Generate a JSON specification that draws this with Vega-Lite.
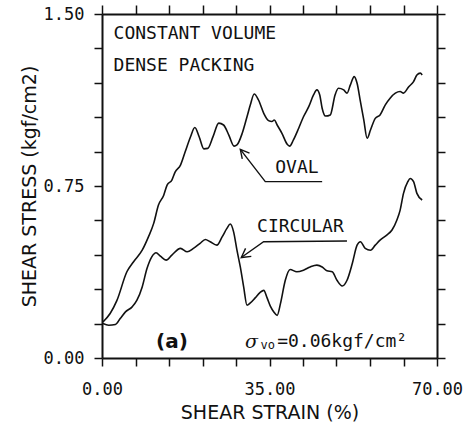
{
  "$schema": "https://vega.github.io/schema/vega-lite/v6.json",
  "autosize": "none",
  "padding": {"left": 102, "top": 14, "right": 32, "bottom": 67},
  "width": 335,
  "height": 344,
  "background": "white",
  "config": {
    "view": {"stroke": null},
    "axis": {"grid": false, "domainColor": "#111", "domainWidth": 2, "tickColor": "#111", "tickWidth": 1.5, "labelColor": "#111", "titleColor": "#111", "labelFont": "DejaVu Sans Mono", "titleFont": "DejaVu Sans", "titleFontWeight": "normal", "labelFontSize": 17, "titleFontSize": 19}
  },
  "datasets": {
    "curves": [
      {"series": "oval", "strain": 0.2, "stress": 0.157},
      {"series": "oval", "strain": 1.7, "stress": 0.194},
      {"series": "oval", "strain": 3.1, "stress": 0.25},
      {"series": "oval", "strain": 5.2, "stress": 0.376},
      {"series": "oval", "strain": 6.6, "stress": 0.42},
      {"series": "oval", "strain": 8.4, "stress": 0.47},
      {"series": "oval", "strain": 9.7, "stress": 0.528},
      {"series": "oval", "strain": 10.8, "stress": 0.587},
      {"series": "oval", "strain": 11.8, "stress": 0.667},
      {"series": "oval", "strain": 12.9, "stress": 0.71},
      {"series": "oval", "strain": 13.6, "stress": 0.754},
      {"series": "oval", "strain": 14.6, "stress": 0.776},
      {"series": "oval", "strain": 15.3, "stress": 0.812},
      {"series": "oval", "strain": 16.4, "stress": 0.841},
      {"series": "oval", "strain": 17.4, "stress": 0.9},
      {"series": "oval", "strain": 18.5, "stress": 0.965},
      {"series": "oval", "strain": 19.4, "stress": 1.005},
      {"series": "oval", "strain": 20.3, "stress": 0.965},
      {"series": "oval", "strain": 21.3, "stress": 0.912},
      {"series": "oval", "strain": 22.1, "stress": 0.914},
      {"series": "oval", "strain": 23.2, "stress": 0.965},
      {"series": "oval", "strain": 24.4, "stress": 1.024},
      {"series": "oval", "strain": 25.4, "stress": 1.016},
      {"series": "oval", "strain": 26.5, "stress": 0.972},
      {"series": "oval", "strain": 27.6, "stress": 0.924},
      {"series": "oval", "strain": 28.2, "stress": 0.929},
      {"series": "oval", "strain": 29.3, "stress": 0.98},
      {"series": "oval", "strain": 30.3, "stress": 1.052},
      {"series": "oval", "strain": 31.0, "stress": 1.104},
      {"series": "oval", "strain": 31.8, "stress": 1.151},
      {"series": "oval", "strain": 32.7, "stress": 1.125},
      {"series": "oval", "strain": 33.8, "stress": 1.067},
      {"series": "oval", "strain": 34.8, "stress": 1.035},
      {"series": "oval", "strain": 35.5, "stress": 1.031},
      {"series": "oval", "strain": 36.0, "stress": 1.038},
      {"series": "oval", "strain": 36.6, "stress": 1.016},
      {"series": "oval", "strain": 37.6, "stress": 0.98},
      {"series": "oval", "strain": 38.7, "stress": 0.932},
      {"series": "oval", "strain": 39.2, "stress": 0.924},
      {"series": "oval", "strain": 40.0, "stress": 0.951},
      {"series": "oval", "strain": 41.1, "stress": 1.002},
      {"series": "oval", "strain": 42.1, "stress": 1.052},
      {"series": "oval", "strain": 43.2, "stress": 1.096},
      {"series": "oval", "strain": 44.2, "stress": 1.147},
      {"series": "oval", "strain": 44.9, "stress": 1.169},
      {"series": "oval", "strain": 45.5, "stress": 1.147},
      {"series": "oval", "strain": 46.0, "stress": 1.089},
      {"series": "oval", "strain": 46.7, "stress": 1.055},
      {"series": "oval", "strain": 47.7, "stress": 1.06},
      {"series": "oval", "strain": 48.7, "stress": 1.147},
      {"series": "oval", "strain": 49.4, "stress": 1.176},
      {"series": "oval", "strain": 50.5, "stress": 1.169},
      {"series": "oval", "strain": 51.2, "stress": 1.155},
      {"series": "oval", "strain": 51.9, "stress": 1.191},
      {"series": "oval", "strain": 52.7, "stress": 1.227},
      {"series": "oval", "strain": 53.3, "stress": 1.198},
      {"series": "oval", "strain": 54.0, "stress": 1.118},
      {"series": "oval", "strain": 54.7, "stress": 1.038},
      {"series": "oval", "strain": 55.4, "stress": 0.958},
      {"series": "oval", "strain": 56.1, "stress": 0.994},
      {"series": "oval", "strain": 57.1, "stress": 1.045},
      {"series": "oval", "strain": 58.1, "stress": 1.06},
      {"series": "oval", "strain": 59.2, "stress": 1.104},
      {"series": "oval", "strain": 60.2, "stress": 1.133},
      {"series": "oval", "strain": 61.3, "stress": 1.155},
      {"series": "oval", "strain": 62.3, "stress": 1.162},
      {"series": "oval", "strain": 63.0, "stress": 1.155},
      {"series": "oval", "strain": 64.1, "stress": 1.183},
      {"series": "oval", "strain": 65.1, "stress": 1.205},
      {"series": "oval", "strain": 65.8, "stress": 1.234},
      {"series": "oval", "strain": 66.5, "stress": 1.242},
      {"series": "oval", "strain": 66.9, "stress": 1.234},
      {"series": "circular", "strain": 0.2, "stress": 0.15},
      {"series": "circular", "strain": 1.4, "stress": 0.143},
      {"series": "circular", "strain": 2.8, "stress": 0.146},
      {"series": "circular", "strain": 3.8, "stress": 0.172},
      {"series": "circular", "strain": 4.9, "stress": 0.201},
      {"series": "circular", "strain": 6.3, "stress": 0.223},
      {"series": "circular", "strain": 7.3, "stress": 0.252},
      {"series": "circular", "strain": 8.4, "stress": 0.31},
      {"series": "circular", "strain": 9.4, "stress": 0.39},
      {"series": "circular", "strain": 10.4, "stress": 0.441},
      {"series": "circular", "strain": 11.3, "stress": 0.459},
      {"series": "circular", "strain": 12.2, "stress": 0.444},
      {"series": "circular", "strain": 13.4, "stress": 0.427},
      {"series": "circular", "strain": 14.6, "stress": 0.449},
      {"series": "circular", "strain": 16.4, "stress": 0.478},
      {"series": "circular", "strain": 17.8, "stress": 0.463},
      {"series": "circular", "strain": 19.1, "stress": 0.478},
      {"series": "circular", "strain": 20.5, "stress": 0.5},
      {"series": "circular", "strain": 21.6, "stress": 0.517},
      {"series": "circular", "strain": 22.6, "stress": 0.507},
      {"series": "circular", "strain": 24.0, "stress": 0.492},
      {"series": "circular", "strain": 25.1, "stress": 0.528},
      {"series": "circular", "strain": 26.1, "stress": 0.565},
      {"series": "circular", "strain": 26.8, "stress": 0.584},
      {"series": "circular", "strain": 27.5, "stress": 0.55},
      {"series": "circular", "strain": 28.2, "stress": 0.47},
      {"series": "circular", "strain": 28.9, "stress": 0.397},
      {"series": "circular", "strain": 29.6, "stress": 0.31},
      {"series": "circular", "strain": 30.3, "stress": 0.23},
      {"series": "circular", "strain": 31.0, "stress": 0.24},
      {"series": "circular", "strain": 32.0, "stress": 0.262},
      {"series": "circular", "strain": 33.0, "stress": 0.285},
      {"series": "circular", "strain": 33.8, "stress": 0.295},
      {"series": "circular", "strain": 34.5, "stress": 0.262},
      {"series": "circular", "strain": 35.2, "stress": 0.225},
      {"series": "circular", "strain": 35.9, "stress": 0.201},
      {"series": "circular", "strain": 36.6, "stress": 0.186},
      {"series": "circular", "strain": 37.3, "stress": 0.238},
      {"series": "circular", "strain": 38.3, "stress": 0.339},
      {"series": "circular", "strain": 39.3, "stress": 0.386},
      {"series": "circular", "strain": 40.7, "stress": 0.376},
      {"series": "circular", "strain": 42.1, "stress": 0.383},
      {"series": "circular", "strain": 43.5, "stress": 0.397},
      {"series": "circular", "strain": 44.9, "stress": 0.405},
      {"series": "circular", "strain": 46.0, "stress": 0.397},
      {"series": "circular", "strain": 47.0, "stress": 0.38},
      {"series": "circular", "strain": 48.1, "stress": 0.376},
      {"series": "circular", "strain": 49.1, "stress": 0.339},
      {"series": "circular", "strain": 50.2, "stress": 0.314},
      {"series": "circular", "strain": 51.2, "stress": 0.339},
      {"series": "circular", "strain": 52.3, "stress": 0.412},
      {"series": "circular", "strain": 53.3, "stress": 0.492},
      {"series": "circular", "strain": 54.0, "stress": 0.507},
      {"series": "circular", "strain": 55.0, "stress": 0.478},
      {"series": "circular", "strain": 56.1, "stress": 0.47},
      {"series": "circular", "strain": 57.1, "stress": 0.492},
      {"series": "circular", "strain": 58.1, "stress": 0.514},
      {"series": "circular", "strain": 59.5, "stress": 0.536},
      {"series": "circular", "strain": 60.6, "stress": 0.558},
      {"series": "circular", "strain": 61.6, "stress": 0.601},
      {"series": "circular", "strain": 62.3, "stress": 0.645},
      {"series": "circular", "strain": 63.0, "stress": 0.718},
      {"series": "circular", "strain": 63.9, "stress": 0.769},
      {"series": "circular", "strain": 64.4, "stress": 0.783},
      {"series": "circular", "strain": 65.1, "stress": 0.769},
      {"series": "circular", "strain": 65.8, "stress": 0.718},
      {"series": "circular", "strain": 66.9, "stress": 0.689}
    ],
    "pointers": [
      {"seg": "oval-shaft", "ord": 1, "strain": 28.9, "stress": 0.91},
      {"seg": "oval-shaft", "ord": 2, "strain": 34.12, "stress": 0.769},
      {"seg": "oval-shaft", "ord": 3, "strain": 46.0, "stress": 0.769},
      {"seg": "oval-head", "ord": 1, "strain": 30.82, "stress": 0.893},
      {"seg": "oval-head", "ord": 2, "strain": 28.9, "stress": 0.91},
      {"seg": "oval-head", "ord": 3, "strain": 29.31, "stress": 0.868},
      {"seg": "circ-shaft", "ord": 1, "strain": 29.1, "stress": 0.438},
      {"seg": "circ-shaft", "ord": 2, "strain": 33.77, "stress": 0.507},
      {"seg": "circ-shaft", "ord": 3, "strain": 51.19, "stress": 0.51},
      {"seg": "circ-head", "ord": 1, "strain": 31.2, "stress": 0.443},
      {"seg": "circ-head", "ord": 2, "strain": 29.1, "stress": 0.438},
      {"seg": "circ-head", "ord": 3, "strain": 30.0, "stress": 0.478}
    ],
    "labels": [
      {"text": "CONSTANT VOLUME", "strain": 2.42, "stress": 1.413, "size": 18, "style": "plain"},
      {"text": "DENSE PACKING", "strain": 2.42, "stress": 1.274, "size": 18, "style": "plain"},
      {"text": "OVAL", "strain": 36.2, "stress": 0.827, "size": 18, "style": "plain"},
      {"text": "CIRCULAR", "strain": 32.4, "stress": 0.572, "size": 18, "style": "plain"},
      {"text": "(a)", "strain": 11.3, "stress": 0.07, "size": 20, "style": "bold"},
      {"text": "σ", "strain": 29.9, "stress": 0.07, "size": 19, "style": "italic"},
      {"text": "vo", "strain": 33.1, "stress": 0.058, "size": 12, "style": "plain"},
      {"text": "=0.06kgf/cm²", "strain": 36.6, "stress": 0.07, "size": 18, "style": "plain"}
    ]
  },
  "layer": [
    {
      "data": {"name": "curves"},
      "mark": {"type": "line", "color": "#111", "strokeWidth": 1.6, "interpolate": "monotone"},
      "encoding": {
        "x": {"field": "strain", "type": "quantitative", "scale": {"domain": [0, 70], "nice": false, "zero": false},
          "axis": {"orient": "bottom", "values": [0, 7, 14, 21, 28, 35, 42, 49, 56, 63, 70], "labelExpr": "datum.value == 0 || datum.value == 35 || datum.value == 70 ? format(datum.value, '.2f') : ''", "tickSize": 8, "labelPadding": 15, "labelFlush": false, "labelOverlap": false, "title": "SHEAR STRAIN (%)", "titlePadding": 6}},
        "y": {"field": "stress", "type": "quantitative", "scale": {"domain": [0, 1.5], "nice": false, "zero": false},
          "axis": {"orient": "left", "values": [0, 0.15, 0.3, 0.45, 0.6, 0.75, 0.9, 1.05, 1.2, 1.35, 1.5], "labelExpr": "datum.value == 0 || datum.value == 0.75 || datum.value == 1.5 ? format(datum.value, '.2f') : ''", "tickSize": 8, "labelPadding": 10, "labelFlush": false, "labelOverlap": false, "title": "SHEAR STRESS (kgf/cm2)", "titlePadding": 4}},
        "detail": {"field": "series", "type": "nominal"}
      }
    },
    {
      "data": {"name": "pointers"},
      "mark": {"type": "line", "color": "#111", "strokeWidth": 1.4},
      "encoding": {
        "x": {"field": "strain", "type": "quantitative", "axis": {"orient": "top", "values": [0, 7, 14, 21, 28, 35, 42, 49, 56, 63, 70], "labels": false, "tickSize": 9, "title": null}},
        "y": {"field": "stress", "type": "quantitative", "axis": {"orient": "right", "values": [0, 0.15, 0.3, 0.45, 0.6, 0.75, 0.9, 1.05, 1.2, 1.35, 1.5], "labels": false, "tickSize": 8, "title": null}},
        "detail": {"field": "seg", "type": "nominal"},
        "order": {"field": "ord", "type": "quantitative"}
      }
    },
    {
      "data": {"name": "labels"},
      "transform": [{"filter": "datum.style == 'plain'"}],
      "mark": {"type": "text", "align": "left", "baseline": "middle", "font": "DejaVu Sans Mono", "color": "#111"},
      "encoding": {
        "x": {"field": "strain", "type": "quantitative", "axis": null},
        "y": {"field": "stress", "type": "quantitative", "axis": null},
        "text": {"field": "text"},
        "size": {"field": "size", "type": "quantitative", "scale": null}
      }
    },
    {
      "data": {"name": "labels"},
      "transform": [{"filter": "datum.style == 'bold'"}],
      "mark": {"type": "text", "align": "left", "baseline": "middle", "font": "DejaVu Sans", "fontWeight": "bold", "color": "#111"},
      "encoding": {
        "x": {"field": "strain", "type": "quantitative", "axis": null},
        "y": {"field": "stress", "type": "quantitative", "axis": null},
        "text": {"field": "text"},
        "size": {"field": "size", "type": "quantitative", "scale": null}
      }
    },
    {
      "data": {"name": "labels"},
      "transform": [{"filter": "datum.style == 'italic'"}],
      "mark": {"type": "text", "align": "left", "baseline": "middle", "font": "DejaVu Serif", "fontStyle": "italic", "color": "#111"},
      "encoding": {
        "x": {"field": "strain", "type": "quantitative", "axis": null},
        "y": {"field": "stress", "type": "quantitative", "axis": null},
        "text": {"field": "text"},
        "size": {"field": "size", "type": "quantitative", "scale": null}
      }
    }
  ],
  "resolve": {"axis": {"x": "independent", "y": "independent"}}
}
